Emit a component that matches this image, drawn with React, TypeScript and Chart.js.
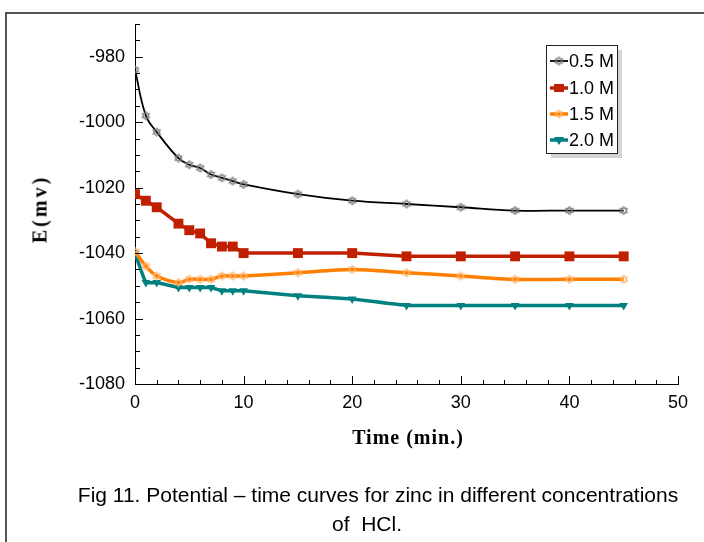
import { useEffect, useRef } from 'react';
import { Chart, registerables } from 'chart.js';
Chart.register(...registerables);

const timeMin = [0, 1, 2, 4, 5, 6, 7, 8, 9, 10, 15, 20, 25, 30, 35, 40, 45];
const e05 = [-984, -998, -1003, -1011, -1013, -1014, -1016, -1017, -1018, -1019, -1022, -1024, -1025, -1026, -1027, -1027, -1027];
const e10 = [-1022, -1024, -1026, -1031, -1033, -1034, -1037, -1038, -1038, -1040, -1040, -1040, -1041, -1041, -1041, -1041, -1041];
const e15 = [-1039.5, -1044, -1047, -1049, -1048, -1048, -1048, -1047, -1047, -1047, -1046, -1045, -1046, -1047, -1048, -1048, -1048];
const e20 = [-1040, -1049, -1049, -1050.5, -1050.5, -1050.5, -1050.5, -1051.5, -1051.5, -1051.5, -1053, -1054, -1056, -1056, -1056, -1056, -1056];
const seriesLabels = ['0.5 M', '1.0 M', '1.5 M', '2.0 M'];
const xTicks = [0, 10, 20, 30, 40, 50];
const yTicks = [-1080, -1060, -1040, -1020, -1000, -980];
const xMinorStep = 2;
const yMinorStep = 5;

const FONT = "'Liberation Sans', Arial, sans-serif";

function makeStar(color: string, r: number) {
  const size = Math.ceil(r * 2 + 4);
  const c = document.createElement('canvas');
  c.width = size;
  c.height = size;
  const ctx = c.getContext('2d')!;
  const cx = size / 2, cy = size / 2;
  ctx.strokeStyle = color;
  ctx.lineWidth = 1;
  for (const rot of [-Math.PI / 2, Math.PI / 2]) {
    ctx.beginPath();
    for (let i = 0; i < 3; i++) {
      const a = rot + (i * 2 * Math.PI) / 3;
      const px = cx + r * Math.cos(a), py = cy + r * Math.sin(a);
      if (i === 0) ctx.moveTo(px, py); else ctx.lineTo(px, py);
    }
    ctx.closePath();
    ctx.stroke();
  }
  return c;
}

const toPts = (ys: number[]) => timeMin.map((t, i) => ({ x: t, y: ys[i] }));

export default function App() {
  const ref = useRef<HTMLCanvasElement>(null);
  useEffect(() => {
    const starGray = makeStar('#7a7a7a', 4.5);
    const starOrange = makeStar('#ffb36a', 4.5);
    const colors = ['#000000', '#c02000', '#ff8000', '#008080'];

    const inwardTicks = {
      id: 'inwardTicks',
      afterDraw(chart: any) {
        const { ctx, chartArea, scales } = chart;
        const { left, bottom } = chartArea;
        const x = scales.x, y = scales.y;
        ctx.save();
        ctx.strokeStyle = '#000';
        ctx.lineWidth = 1;
        for (let v = y.min; v <= y.max + 1e-6; v += yMinorStep) {
          const py = Math.round(y.getPixelForValue(v)) + 0.5;
          const len = yTicks.includes(v) ? 8 : 5;
          ctx.beginPath();
          ctx.moveTo(left, py);
          ctx.lineTo(left + len, py);
          ctx.stroke();
        }
        for (let v = x.min; v <= x.max + 1e-6; v += xMinorStep) {
          const px = Math.round(x.getPixelForValue(v)) + 0.5;
          const len = xTicks.includes(v) ? 8 : 4;
          ctx.beginPath();
          ctx.moveTo(px, bottom);
          ctx.lineTo(px, bottom - len);
          ctx.stroke();
        }
        ctx.restore();
      },
    };

    const legendBox = {
      id: 'legendBox',
      afterDraw(chart: any) {
        const ctx = chart.ctx as CanvasRenderingContext2D;
        const bx = 546, by = 45, bw = 71, bh = 108;
        ctx.save();
        ctx.fillStyle = '#d4d4d4';
        ctx.fillRect(bx + 5, by + 5, bw, bh);
        ctx.fillStyle = '#fff';
        ctx.fillRect(bx, by, bw, bh);
        ctx.strokeStyle = '#222';
        ctx.lineWidth = 1;
        ctx.strokeRect(bx + 0.5, by + 0.5, bw, bh);
        const rowsY = [61, 88, 114, 140];
        ctx.font = `18px ${FONT}`;
        ctx.textBaseline = 'middle';
        chart.data.datasets.forEach((ds: any, i: number) => {
          const yy = rowsY[i];
          const x0 = bx + 4, x1 = bx + 22, xm = (x0 + x1) / 2;
          ctx.strokeStyle = ds.borderColor;
          ctx.lineWidth = ds.borderWidth;
          ctx.beginPath();
          ctx.moveTo(x0, yy);
          ctx.lineTo(x1, yy);
          ctx.stroke();
          if (i === 0) ctx.drawImage(starGray, xm - starGray.width / 2, yy - starGray.height / 2);
          if (i === 2) ctx.drawImage(starOrange, xm - starOrange.width / 2, yy - starOrange.height / 2);
          if (i === 1) { ctx.fillStyle = ds.pointBackgroundColor; ctx.fillRect(xm - 5, yy - 4, 10, 8); }
          if (i === 3) {
            ctx.fillStyle = ds.pointBackgroundColor;
            ctx.beginPath();
            ctx.moveTo(xm - 5, yy - 3);
            ctx.lineTo(xm + 5, yy - 3);
            ctx.lineTo(xm, yy + 5);
            ctx.closePath();
            ctx.fill();
          }
          ctx.fillStyle = '#000';
          ctx.fillText(ds.label, bx + 23, yy + 1);
        });
        ctx.restore();
      },
    };

    const chart = new Chart(ref.current!, {
      type: 'line',
      data: {
        datasets: [
          {
            label: seriesLabels[0], data: toPts(e05), borderColor: colors[0], borderWidth: 1.8,
            tension: 0.4, pointStyle: starGray as any, pointRadius: 5,
          },
          {
            label: seriesLabels[1], data: toPts(e10), borderColor: colors[1], borderWidth: 3.5,
            tension: 0, pointStyle: 'rect', pointRadius: 7, pointBackgroundColor: colors[1], pointBorderColor: colors[1], pointBorderWidth: 0,
          },
          {
            label: seriesLabels[2], data: toPts(e15), borderColor: colors[2], borderWidth: 3.5,
            tension: 0.3, pointStyle: starOrange as any, pointRadius: 5,
          },
          {
            label: seriesLabels[3], data: toPts(e20), borderColor: colors[3], borderWidth: 3.5,
            tension: 0.1, pointStyle: 'triangle', rotation: 180, pointRadius: 5,
            pointBackgroundColor: colors[3], pointBorderColor: colors[3], pointBorderWidth: 0,
          },
        ],
      },
      options: {
        animation: false,
        responsive: true,
        maintainAspectRatio: false,
        layout: { padding: { left: 0, top: 24, right: 26, bottom: 128 } },
        plugins: { legend: { display: false }, tooltip: { enabled: false } },
        scales: {
          x: {
            type: 'linear', min: 0, max: 50,
            afterFit: (s: any) => { s.height = 30; },
            afterBuildTicks: (s: any) => { s.ticks = xTicks.map((v) => ({ value: v })); },
            grid: { display: false, drawTicks: false },
            border: { display: true, color: '#000', width: 1 },
            ticks: { color: '#000', font: { family: FONT, size: 18 }, padding: 8, maxRotation: 0, autoSkip: false, callback: (v: any) => String(v) },
          },
          y: {
            type: 'linear', min: -1080, max: -970,
            afterFit: (s: any) => { s.width = 135; },
            afterBuildTicks: (s: any) => { s.ticks = yTicks.map((v) => ({ value: v })); },
            grid: { display: false, drawTicks: false },
            border: { display: true, color: '#000', width: 1 },
            ticks: { color: '#000', font: { family: FONT, size: 18 }, padding: 10, autoSkip: false, callback: (v: any) => String(v) },
          },
        },
      } as any,
      plugins: [inwardTicks, legendBox],
    });
    return () => chart.destroy();
  }, []);

  return (
    <div style={{ position: 'fixed', left: 0, top: 0, width: 704, height: 542, overflow: 'hidden', background: '#fff' }}>
      <div style={{ position: 'absolute', left: 5, top: 12, width: 760, height: 600, border: '2px solid #555' }} />
      <div style={{ position: 'absolute', left: 0, top: 0, width: 704, height: 542 }}>
        <canvas ref={ref} />
      </div>
      <div style={{
        position: 'absolute', left: 40, top: 209, transform: 'translate(-50%, -50%) rotate(-90deg)',
        font: "bold 20px 'Liberation Serif', 'Times New Roman', serif", letterSpacing: 3, whiteSpace: 'nowrap', color: '#000',
      }}>E(mv)</div>
      <div style={{
        position: 'absolute', left: 408, top: 437, transform: 'translate(-50%, -50%)',
        font: "bold 20px 'Liberation Serif', 'Times New Roman', serif", letterSpacing: 1, whiteSpace: 'nowrap', color: '#000',
      }}>Time (min.)</div>
      <div style={{
        position: 'absolute', left: 0, width: 756, top: 480, textAlign: 'center',
        font: `21px ${FONT}`, lineHeight: '29px', color: '#000', whiteSpace: 'nowrap',
      }}>Fig 11. Potential – time curves for zinc in different concentrations</div>
      <div style={{
        position: 'absolute', left: 0, width: 734, top: 509, textAlign: 'center',
        font: `21px ${FONT}`, lineHeight: '29px', color: '#000', whiteSpace: 'pre',
      }}>{'of  HCl.'}</div>
    </div>
  );
}
